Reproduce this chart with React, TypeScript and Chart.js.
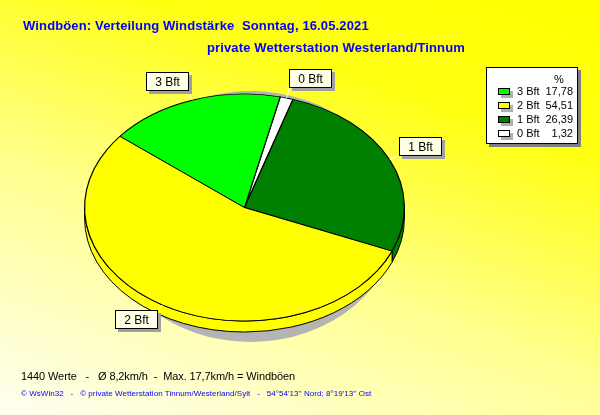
import React, { useEffect, useRef } from "react";
import { Chart, registerables } from "chart.js";

Chart.register(...registerables);

// ---- data ----
const categories = ["0 Bft", "1 Bft", "2 Bft", "3 Bft"];
const percents = [1.32, 26.39, 54.51, 17.78];
const sliceColors = ["#FFFFFF", "#008000", "#FFFF00", "#00FF00"];
const legendOrder = [3, 2, 1, 0];
const titleText = "Windböen: Verteilung Windstärke  Sonntag, 16.05.2021";
const subtitleText = "private Wetterstation Westerland/Tinnum";
const summaryText = "1440 Werte   -   Ø 8,2km/h  -  Max. 17,7km/h = Windböen";
const footerText =
  "© WsWin32   -   © private Wetterstation Tinnum/Westerland/Sylt   -   54°54'13'' Nord; 8°19'13'' Ost";
const startRotation = 12.9;

// ---- style ----
const TILT = 0.71;
const DEPTH = 11;
const FONT = "'Liberation Sans', Arial, sans-serif";

const fmt = (v: number) => v.toFixed(2).replace(".", ",");

const pie3d = {
  id: "pie3d",
  beforeDatasetsDraw(chart: any) {
    const ctx: CanvasRenderingContext2D = chart.ctx;
    const arcs = chart.getDatasetMeta(0).data as any[];
    if (!arcs.length) return;
    const cx = arcs[0].x;
    const cy = arcs[0].y;
    const r = arcs[0].outerRadius;
    const ry = r * TILT;
    ctx.save();
    // drop shadow
    ctx.fillStyle = "#b4b4b4";
    ctx.beginPath();
    ctx.ellipse(cx + 6, cy + 9, r - 12, ry + 12, 0, 0, Math.PI * 2);
    ctx.fill();
    // sides
    ctx.lineWidth = 1;
    ctx.strokeStyle = "#000";
    arcs.forEach((arc: any, i: number) => {
      const s = arc.startAngle;
      const e = arc.endAngle;
      for (let k = -1; k <= 2; k++) {
        const a = Math.max(s, 2 * Math.PI * k);
        const b = Math.min(e, 2 * Math.PI * k + Math.PI);
        if (b <= a) continue;
        ctx.beginPath();
        ctx.ellipse(cx, cy, r, ry, 0, a, b, false);
        ctx.ellipse(cx, cy + DEPTH, r, ry, 0, b, a, true);
        ctx.closePath();
        ctx.fillStyle = sliceColors[i];
        ctx.fill();
        ctx.stroke();
      }
    });
    ctx.restore();
    // squash the top face
    ctx.save();
    ctx.translate(cx, cy);
    ctx.scale(1, TILT);
    ctx.translate(-cx, -cy);
  },
  afterDatasetsDraw(chart: any) {
    const ctx: CanvasRenderingContext2D = chart.ctx;
    ctx.restore();
    const arcs = chart.getDatasetMeta(0).data as any[];
    if (!arcs.length) return;
    ctx.save();
    ctx.font = `12px ${FONT}`;
    ctx.textAlign = "center";
    ctx.textBaseline = "middle";
    arcs.forEach((arc: any, i: number) => {
      const m = (arc.startAngle + arc.endAngle) / 2;
      const r = arc.outerRadius;
      const c = Math.cos(m);
      const s = Math.sin(m);
      const ex = arc.x + r * c;
      const ey = arc.y + r * TILT * s;
      const tx = ex + 10 * c;
      const ty = ey + (s < 0 ? 10 : 6) * s;
      const w = 43;
      const h = 19;
      const bx = Math.round(c >= 0 ? tx : tx - w);
      const by = Math.round(s < 0 ? ty - h : ty);
      ctx.strokeStyle = "#fff";
      ctx.lineWidth = 1;
      ctx.beginPath();
      ctx.moveTo(ex, ey);
      ctx.lineTo(tx, ty);
      ctx.stroke();
      ctx.fillStyle = "#a0a0a0";
      ctx.fillRect(bx + 3, by + 3, w, h);
      ctx.fillStyle = "#ffffe6";
      ctx.fillRect(bx, by, w, h);
      ctx.strokeStyle = "#000";
      ctx.strokeRect(bx + 0.5, by + 0.5, w - 1, h - 1);
      ctx.fillStyle = "#000";
      ctx.fillText(categories[i], bx + w / 2, by + h / 2 + 1);
    });
    ctx.restore();
  },
};

export default function App() {
  const ref = useRef<HTMLCanvasElement | null>(null);

  useEffect(() => {
    if (!ref.current) return;
    const chart = new Chart(ref.current, {
      type: "pie",
      data: {
        labels: categories,
        datasets: [
          {
            data: percents,
            backgroundColor: sliceColors,
            borderColor: "#000",
            borderWidth: 1.2,
            clip: false,
          } as any,
        ],
      },
      options: {
        responsive: false,
        animation: false,
        events: [],
        rotation: startRotation,
        layout: { padding: { left: 84, right: 195, top: 47, bottom: 47 } },
        plugins: {
          legend: { display: false },
          tooltip: { enabled: false },
          title: { display: false },
        },
      } as any,
      plugins: [pie3d as any],
    });
    return () => chart.destroy();
  }, []);

  const abs = (o: React.CSSProperties): React.CSSProperties => ({
    position: "absolute",
    whiteSpace: "pre",
    lineHeight: 1,
    ...o,
  });

  return (
    <div
      style={{
        position: "absolute",
        left: 0,
        top: 0,
        width: 600,
        height: 415,
        overflow: "hidden",
        background:
          "linear-gradient(200deg, #ffff00 0%, #ffff10 25%, #ffff90 60%, #fffff2 100%)",
        fontFamily: FONT,
      }}
    >
      <canvas
        ref={ref}
        width={600}
        height={415}
        style={{ position: "absolute", left: 0, top: 0 }}
      />
      <div
        style={abs({
          left: 23,
          top: 19,
          fontSize: 13,
          fontWeight: "bold",
          color: "#0000ff",
          letterSpacing: 0.14,
        })}
      >
        {titleText}
      </div>
      <div
        style={abs({
          left: 207,
          top: 41,
          fontSize: 13,
          fontWeight: "bold",
          color: "#0000ff",
          letterSpacing: 0.13,
        })}
      >
        {subtitleText}
      </div>
      <div style={abs({ left: 21, top: 371, fontSize: 11, color: "#000", letterSpacing: -0.1 })}>
        {summaryText}
      </div>
      <div style={abs({ left: 21, top: 390, fontSize: 8, color: "#0000ff", letterSpacing: 0.05 })}>
        {footerText}
      </div>
      <div
        style={{
          position: "absolute",
          left: 486,
          top: 67,
          width: 92,
          height: 77,
          boxSizing: "border-box",
          background: "#fff",
          border: "1px solid #000",
          boxShadow: "3px 3px 0 #808080",
          fontSize: 11,
          color: "#000",
        }}
      >
        <div style={abs({ left: 67, top: 6 })}>%</div>
        {legendOrder.map((idx, row) => (
          <React.Fragment key={categories[idx]}>
            <div
              style={{
                position: "absolute",
                left: 11,
                top: 20 + row * 14,
                width: 12,
                height: 7,
                boxSizing: "border-box",
                background: sliceColors[idx],
                border: "1px solid #000",
                boxShadow: "3px 3px 0 #b0b0b0",
              }}
            />
            <div style={abs({ left: 30, top: 18 + row * 14 })}>{categories[idx]}</div>
            <div style={abs({ right: 4, top: 18 + row * 14, textAlign: "right" })}>
              {fmt(percents[idx])}
            </div>
          </React.Fragment>
        ))}
      </div>
    </div>
  );
}
